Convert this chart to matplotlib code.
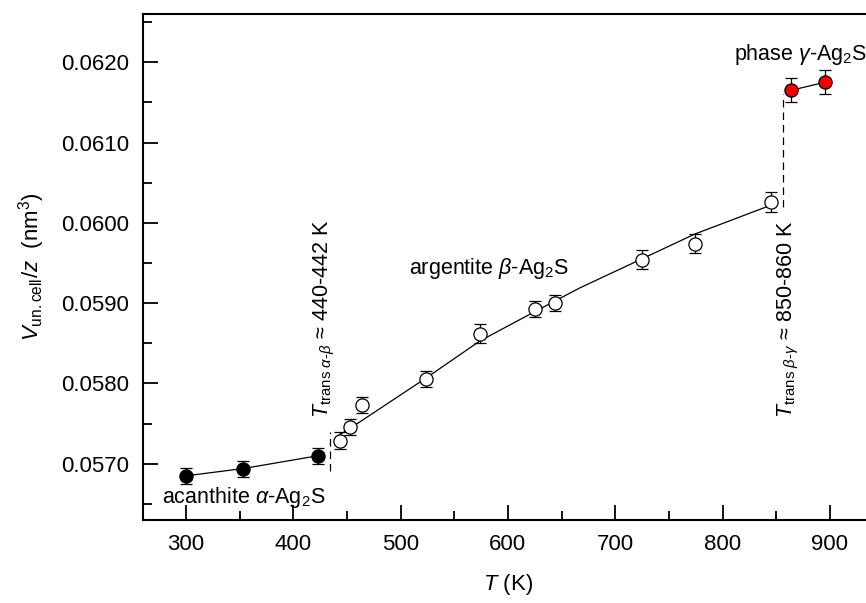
import matplotlib.pyplot as plt
from matplotlib.ticker import MultipleLocator, FormatStrFormatter

# ----- DATA -----

# acanthite (alpha), filled black
T_alpha = [300, 353, 423]
V_alpha = [0.05685, 0.05694, 0.05710]
err_alpha = [0.00010, 0.00010, 0.00010]

# argentite (beta), open circles
T_beta = [444, 453, 464, 524, 574, 625, 644, 725, 774, 845]
V_beta = [0.05729, 0.05746, 0.05773, 0.05805, 0.05862,
          0.05893, 0.05900, 0.05954, 0.05974, 0.06026]
err_beta = [0.00010, 0.00010, 0.00010, 0.00010, 0.00012,
            0.00010, 0.00010, 0.00012, 0.00012, 0.00012]

# smooth guide line through the beta points
T_beta_line = [443, 454, 524, 574, 623, 667, 723, 774, 845]
V_beta_line = [0.05736, 0.05745, 0.05807, 0.05853, 0.05888,
               0.05919, 0.05954, 0.05986, 0.06022]

# gamma phase, red
T_gamma = [864, 895]
V_gamma = [0.06165, 0.06175]
err_gamma = [0.00015, 0.00015]

# transition markers (dashed)
T_trans1 = [434, 434]
V_trans1 = [0.05691, 0.05739]
T_trans2 = [856, 856]
V_trans2 = [0.06020, 0.06160]

# ----- STYLE -----

plt.rcParams["font.family"] = ["Liberation Sans", "DejaVu Sans"]
plt.rcParams["mathtext.fontset"] = "custom"
plt.rcParams["mathtext.rm"] = "Liberation Sans"
plt.rcParams["mathtext.it"] = "Liberation Sans:italic"
plt.rcParams["mathtext.bf"] = "Liberation Sans:bold"

fig = plt.figure(figsize=(8.66, 6.03), dpi=100)
ax = fig.add_axes([0.165, 0.1376, 0.843, 0.8392])

eb_kw = dict(capsize=4.5, elinewidth=0.9, capthick=0.9, ecolor="black",
             markersize=9.5, markeredgecolor="black", markeredgewidth=0.9,
             ls="none", zorder=3)

ax.plot(T_alpha, V_alpha, color="black", lw=0.9, zorder=2)
ax.plot(T_beta_line, V_beta_line, color="black", lw=0.9, zorder=2)
ax.plot(T_gamma, V_gamma, color="black", lw=0.9, zorder=2)

ax.errorbar(T_alpha, V_alpha, yerr=err_alpha, fmt="o", color="black",
            markerfacecolor="black", **eb_kw)
ax.errorbar(T_beta, V_beta, yerr=err_beta, fmt="o", color="black",
            markerfacecolor="white", **eb_kw)
ax.errorbar(T_gamma, V_gamma, yerr=err_gamma, fmt="o", color="black",
            markerfacecolor="#ee0000", **eb_kw)

ax.plot(T_trans1, V_trans1, color="black", lw=0.9, ls=(0, (6, 4)))
ax.plot(T_trans2, V_trans2, color="black", lw=0.9, ls=(0, (6, 4)))

# ----- TEXT -----

fs = 15.5
ax.text(278, 0.05658, r"acanthite $\alpha$-Ag$_2$S", fontsize=fs,
        ha="left", va="center")
ax.text(508, 0.05943, r"argentite $\beta$-Ag$_2$S", fontsize=fs,
        ha="left", va="center")
ax.text(811, 0.06210, r"phase $\gamma$-Ag$_2$S", fontsize=fs,
        ha="left", va="center")
ax.text(429, 0.05757, r"$T_{\mathrm{trans}\ \alpha\text{-}\beta}$ ≈ 440-442 K",
        fontsize=fs, rotation=90, ha="center", va="bottom")
ax.text(861, 0.05757, r"$T_{\mathrm{trans}\ \beta\text{-}\gamma}$ ≈ 850-860 K",
        fontsize=fs, rotation=90, ha="center", va="bottom")

# ----- AXES -----

ax.set_xlim(260, 940)
ax.set_ylim(0.0563, 0.0626)
ax.xaxis.set_major_locator(MultipleLocator(100))
ax.xaxis.set_minor_locator(MultipleLocator(50))
ax.yaxis.set_major_locator(MultipleLocator(0.001))
ax.yaxis.set_minor_locator(MultipleLocator(0.0005))
ax.yaxis.set_major_formatter(FormatStrFormatter("%.4f"))
ax.tick_params(which="both", direction="in", top=False, right=False,
               labelsize=16, width=1.3)
ax.tick_params(which="major", length=11, pad=10)
ax.tick_params(which="minor", length=6.5)
for sp in ax.spines.values():
    sp.set_linewidth(1.5)

ax.set_xlabel(r"$T$ (K)", fontsize=16, labelpad=12)
ax.set_ylabel(r"$V_{\mathrm{un.cell}}/z$  (nm$^3$)", fontsize=16, labelpad=10)

fig.savefig("out.png", dpi=100)
